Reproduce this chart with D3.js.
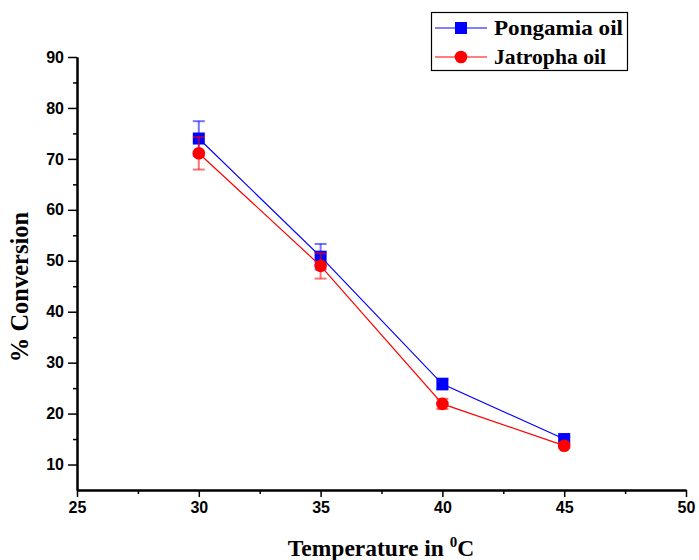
<!DOCTYPE html>
<html><head><meta charset="utf-8">
<script src="https://cdn.jsdelivr.net/npm/d3@7"></script>
<style>body{margin:0;background:#fff}svg{display:block}</style>
</head><body><svg id="c" width="699" height="560"></svg>
<script>
const temps = [30, 35, 40, 45];
const pongamia = [74, 50.8, 25.8, 15];
const pongamiaErr = [3.4, 2.5, 1.1, 0.5];
const jatropha = [71.1, 49, 21.9, 13.7];
const jatrophaErr = [3.2, 2.5, 1.0, 0.5];
const xTicks = [25, 30, 35, 40, 45, 50];
const yTicks = [10, 20, 30, 40, 50, 60, 70, 80, 90];
const seriesNames = ["Pongamia oil", "Jatropha oil"];

const svg = d3.select("#c");
const x = d3.scaleLinear().domain([25, 50]).range([77, 686]);
const y = d3.scaleLinear().domain([5, 90]).range([490, 57]);

const xAxis = d3.axisBottom(x).tickValues(xTicks).tickSize(7).tickSizeOuter(0).tickPadding(5);
const xMinor = d3.axisBottom(x).tickValues(d3.range(27.5, 50, 5)).tickSize(4).tickFormat("").tickSizeOuter(0);
const yAxis = d3.axisLeft(y).tickValues(yTicks).tickSize(9).tickSizeOuter(0).tickPadding(4);
const yMinor = d3.axisLeft(y).tickValues(d3.range(15, 90, 10)).tickSize(4).tickFormat("").tickSizeOuter(0);

function style(g){
  g.selectAll("path.domain").attr("stroke","#000").attr("stroke-width",2);
  g.selectAll(".tick line").attr("stroke","#000").attr("stroke-width",1.5);
  g.selectAll(".tick text").attr("font-family","Liberation Sans, Arial, sans-serif")
   .attr("font-weight","bold").attr("font-size",16).attr("fill","#000");
}
svg.append("g").attr("transform","translate(0,490)").call(xMinor).call(style);
svg.append("g").attr("transform","translate(0,490)").call(xAxis).call(style);
svg.append("g").attr("transform","translate(77,0)").call(yMinor).call(style);
svg.append("g").attr("transform","translate(77,0)").call(yAxis).call(style);

svg.append("text").attr("x",381).attr("y",556).attr("text-anchor","middle")
  .attr("font-family","Liberation Serif, Times New Roman, serif").attr("font-weight","bold").attr("font-size",23.5)
  .html('Temperature in <tspan dy="-9" font-size="15">0</tspan><tspan dy="9">C</tspan>');
svg.append("text").attr("transform","translate(28,287) rotate(-90)").attr("text-anchor","middle")
  .attr("font-family","Liberation Serif, Times New Roman, serif").attr("font-weight","bold").attr("font-size",24.5)
  .text("% Conversion");

const series = [
  {name: seriesNames[0], vals: pongamia, err: pongamiaErr, color: "#0000ff", shape: "square"},
  {name: seriesNames[1], vals: jatropha, err: jatrophaErr, color: "#ff0000", shape: "circle"}
];

series.forEach(s => {
  const pts = temps.map((t,i)=>({t, v:s.vals[i], e:s.err[i]}));
  const g = svg.append("g");
  g.append("path").datum(pts).attr("fill","none").attr("stroke",s.color).attr("stroke-width",1.2)
    .attr("d", d3.line().x(d=>x(d.t)).y(d=>y(d.v)));
  const eb = g.selectAll(".eb").data(pts).enter().append("g").attr("stroke",s.color).attr("stroke-opacity",0.55).attr("stroke-width",2);
  eb.append("line").attr("x1",d=>x(d.t)).attr("x2",d=>x(d.t)).attr("y1",d=>y(d.v+d.e)).attr("y2",d=>y(d.v-d.e));
  eb.append("line").attr("x1",d=>x(d.t)-6).attr("x2",d=>x(d.t)+6).attr("y1",d=>y(d.v+d.e)).attr("y2",d=>y(d.v+d.e));
  eb.append("line").attr("x1",d=>x(d.t)-6).attr("x2",d=>x(d.t)+6).attr("y1",d=>y(d.v-d.e)).attr("y2",d=>y(d.v-d.e));
  if (s.shape==="square") {
    g.selectAll(".m").data(pts).enter().append("rect").attr("x",d=>x(d.t)-6).attr("y",d=>y(d.v)-6)
      .attr("width",12).attr("height",12).attr("fill",s.color);
  } else {
    g.selectAll(".m").data(pts).enter().append("circle").attr("cx",d=>x(d.t)).attr("cy",d=>y(d.v))
      .attr("r",6.3).attr("fill",s.color);
  }
});

const lg = svg.append("g");
lg.append("rect").attr("x",431.5).attr("y",12.5).attr("width",196).attr("height",58)
  .attr("fill","#fff").attr("stroke","#000").attr("stroke-width",1.2);
series.forEach((s,i)=>{
  const cy = 28 + i*29;
  lg.append("line").attr("x1",435).attr("x2",487).attr("y1",cy).attr("y2",cy).attr("stroke",s.color).attr("stroke-width",1.2);
  if (s.shape==="square") lg.append("rect").attr("x",455).attr("y",cy-6).attr("width",12).attr("height",12).attr("fill",s.color);
  else lg.append("circle").attr("cx",461).attr("cy",cy).attr("r",6.3).attr("fill",s.color);
  lg.append("text").attr("x",494).attr("y",cy+7).attr("font-family","Liberation Serif, Times New Roman, serif")
    .attr("font-weight","bold").attr("font-size",21.5).attr("fill","#000")
    .attr("textLength", i===0 ? 129 : 112).attr("lengthAdjust","spacingAndGlyphs").text(s.name);
});
</script></body></html>
